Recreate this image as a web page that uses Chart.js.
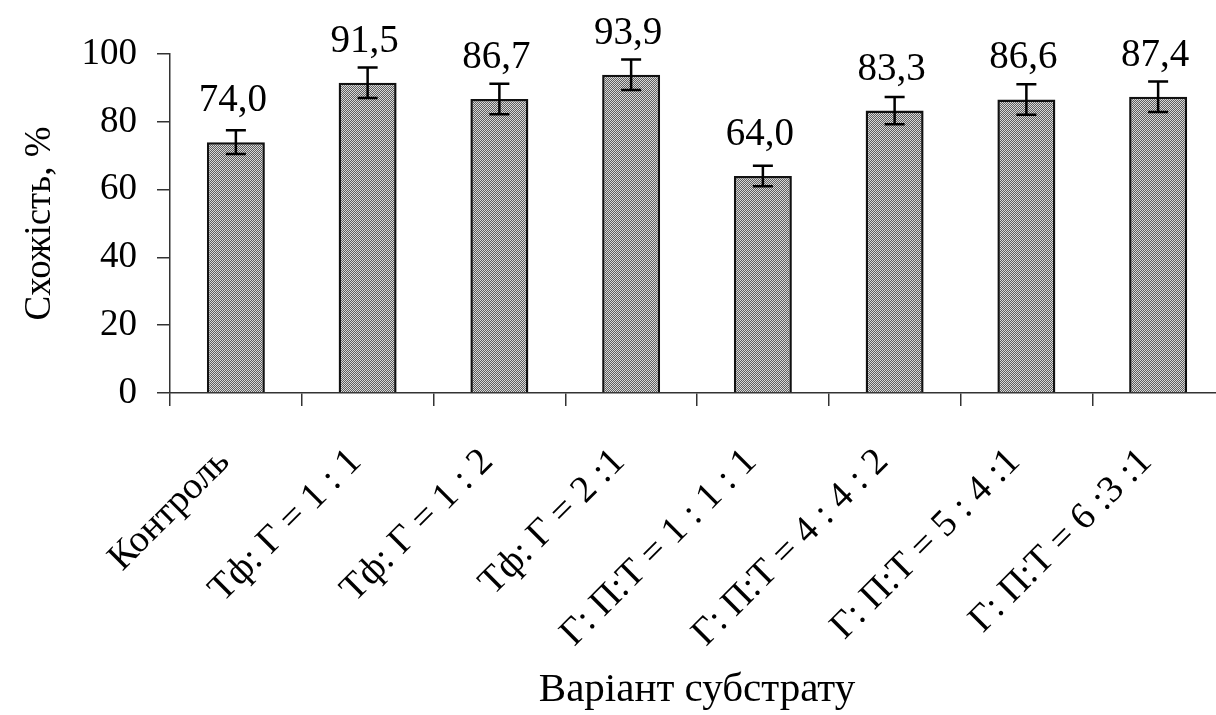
<!DOCTYPE html>
<html>
<head>
<meta charset="utf-8">
<script src="https://cdn.jsdelivr.net/npm/chart.js@4/dist/chart.umd.min.js"></script>
<style>
  html, body { margin: 0; padding: 0; background: #fff; overflow: hidden; }
  #wrap { width: 1226px; height: 715px; }
</style>
</head>
<body>
<div id="wrap"><canvas id="c" width="1226" height="715"></canvas></div>
<script>
const categories = [
  'Контроль',
  'Тф: Г = 1 : 1',
  'Тф: Г = 1 : 2',
  'Тф: Г = 2 :1',
  'Г: П:Т = 1 : 1 : 1',
  'Г: П:Т = 4 : 4 : 2',
  'Г: П:Т = 5 : 4 :1',
  'Г: П:Т = 6 :3 :1'
];
const germination = [74.0, 91.5, 86.7, 93.9, 64.0, 83.3, 86.6, 87.4];
const errors = [3.5, 4.5, 4.5, 4.5, 3.0, 4.0, 4.5, 4.5];
const yTicks = [0, 20, 40, 60, 80, 100];

const FONT = "'Liberation Serif', 'Times New Roman', serif";

function makePattern() {
  const p = document.createElement('canvas');
  p.width = 2; p.height = 2;
  const g = p.getContext('2d');
  g.fillStyle = '#5e5e5e'; g.fillRect(0, 0, 2, 2);
  g.fillStyle = '#d8d8d8'; g.fillRect(0, 0, 1, 1); g.fillRect(1, 1, 1, 1);
  return document.getElementById('c').getContext('2d').createPattern(p, 'repeat');
}

const overlay = {
  id: 'overlay',
  afterDatasetsDraw(chart) {
    const ctx = chart.ctx;
    const meta = chart.getDatasetMeta(0);
    const ys = chart.scales.y;
    ctx.save();
    ctx.strokeStyle = '#000';
    ctx.lineWidth = 2.5;
    meta.data.forEach((bar, i) => {
      const v = germination[i], e = errors[i];
      const yt = ys.getPixelForValue(v + e);
      const yb = ys.getPixelForValue(v - e);
      const x = bar.x;
      ctx.beginPath();
      ctx.moveTo(x, yt); ctx.lineTo(x, yb);
      ctx.moveTo(x - 10, yt); ctx.lineTo(x + 10, yt);
      ctx.moveTo(x - 10, yb); ctx.lineTo(x + 10, yb);
      ctx.stroke();
    });
    ctx.fillStyle = '#000';
    ctx.font = '39px ' + FONT;
    ctx.textAlign = 'center';
    ctx.textBaseline = 'alphabetic';
    meta.data.forEach((bar, i) => {
      ctx.fillText(germination[i].toFixed(1).replace('.', ','), bar.x - 3, bar.y - 31);
    });
    ctx.restore();
  }
};

new Chart(document.getElementById('c'), {
  type: 'bar',
  data: {
    labels: categories,
    datasets: [{
      data: germination,
      backgroundColor: makePattern(),
      borderColor: '#111',
      borderWidth: 2.5,
      categoryPercentage: 1.0,
      barPercentage: 0.44
    }]
  },
  options: {
    responsive: false,
    animation: false,
    devicePixelRatio: 1,
    layout: { padding: { top: 54, right: 2, left: 0, bottom: 0 } },
    plugins: { legend: { display: false }, tooltip: { enabled: false } },
    scales: {
      x: {
        grid: { display: true, drawOnChartArea: false, drawTicks: true, tickLength: 13, color: '#333', lineWidth: 1.5, offset: true },
        border: { display: true, color: '#333', width: 1.5 },
        ticks: {
          autoSkip: false, minRotation: 45, maxRotation: 45, padding: 34, labelOffset: -12,
          color: '#000', font: { family: FONT, size: 38 }
        },
        title: { display: true, text: 'Варіант субстрату', color: '#000', font: { family: FONT, size: 41 }, padding: { top: 0, bottom: 0 } },
        afterFit(s) { s.height = 322; }
      },
      y: {
        min: 0, max: 100,
        afterBuildTicks(s) { s.ticks = yTicks.map(v => ({ value: v })); },
        grid: { display: true, drawOnChartArea: false, drawTicks: true, tickLength: 13, color: '#333', lineWidth: 1.5 },
        border: { display: true, color: '#333', width: 1.5 },
        ticks: { padding: 20, color: '#000', font: { family: FONT, size: 37 } },
        title: { display: true, text: 'Схожість, %', color: '#000', font: { family: FONT, size: 37 }, padding: { top: 18, bottom: 0 } },
        afterFit(s) { s.width = 170; }
      }
    }
  },
  plugins: [overlay]
});
</script>
</body>
</html>
